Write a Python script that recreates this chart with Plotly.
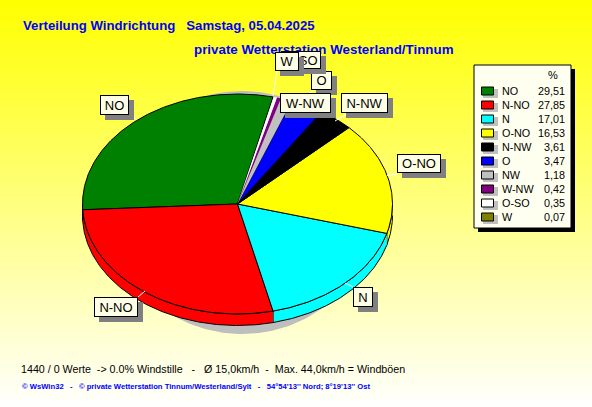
import numpy as np
import plotly.graph_objects as go

# ---- data -------------------------------------------------------------
legend_names = ["NO", "N-NO", "N", "O-NO", "N-NW", "O", "NW", "W-NW", "O-SO", "W"]
legend_values = [29.51, 27.85, 17.01, 16.53, 3.61, 3.47, 1.18, 0.42, 0.35, 0.07]
legend_colors = ["#008000", "#FF0000", "#00FFFF", "#FFFF00", "#000000",
                 "#0000FF", "#C0C0C0", "#800080", "#FFFFFF", "#808000"]
# clockwise order of the slices round the pie, starting at the left
pie_order = ["NO", "W", "O-SO", "W-NW", "NW", "O", "N-NW", "O-NO", "N", "N-NO"]

title_1 = "Verteilung Windrichtung\u00a0\u00a0\u00a0Samstag, 05.04.2025"
title_2 = "private Wetterstation Westerland/Tinnum"
footer_1 = ("1440 / 0 Werte\u00a0\u00a0-> 0.0% Windstille\u00a0\u00a0\u00a0-\u00a0\u00a0\u00a0"
            "Ø 15,0km/h\u00a0\u00a0-\u00a0\u00a0Max. 44,0km/h = Windböen")
footer_2 = ("© WsWin32\u00a0\u00a0\u00a0-\u00a0\u00a0\u00a0© private Wetterstation "
            "Tinnum/Westerland/Sylt\u00a0\u00a0\u00a0-\u00a0\u00a0\u00a0"
            "54°54'13'' Nord; 8°19'13'' Ost")

# ---- geometry / style ---------------------------------------------------
W, H = 592, 407
CX, CY, RX, RY, DEPTH = 237.5, 204, 155, 110, 11.5
START = 183.0
FONT = "Liberation Sans, Arial, sans-serif"
by_name = dict(zip(legend_names, zip(legend_values, legend_colors)))
total = sum(legend_values)

fig = go.Figure()

# background gradient
rows = np.arange(0, H + 2, 2)
fig.add_trace(go.Heatmap(x=[0, W], y=rows, z=[[r, r] for r in rows],
                         colorscale=[[0, "#FFFF00"], [1, "#FFFFFF"]], showscale=False,
                         hoverinfo="skip", zsmooth="best"))

# pie shadow
t = np.radians(np.linspace(0, 360, 241))
fig.add_trace(go.Scatter(x=242 + 130 * np.cos(t), y=212.5 - 121.5 * np.sin(t), mode="lines",
                         fill="toself", fillcolor="#BEBEBE", line=dict(width=0), hoverinfo="skip"))

# slice angles
spans = []
a = START
for name in pie_order:
    v, c = by_name[name]
    b = a - v / total * 360
    spans.append((name, a, b, c))
    a = b

def ex(deg):
    return CX + RX * np.cos(np.radians(deg))

def ey(deg):
    return CY - RY * np.sin(np.radians(deg))

# side wall: only the part of each slice on the front half (180..360 degrees)
for name, a0, b0, c in spans:
    segs = []
    for k in (0, -360):
        s, e = min(a0, 360 + k), max(b0, 180 + k)
        if s > e:
            segs.append((s, e))
    for s, e in segs:
        ang = np.linspace(s, e, max(int((s - e) * 2), 3))
        xs = np.r_[ex(ang), ex(ang[::-1])]
        ys = np.r_[ey(ang), ey(ang[::-1]) + DEPTH]
        fig.add_trace(go.Scatter(x=xs, y=ys, mode="lines", fill="toself", fillcolor=c,
                                 line=dict(color="#000000", width=1), hoverinfo="skip"))

# top faces: wide slices first with an outline, the thin ones on top without one
for name, a0, b0, c in sorted(spans, key=lambda s: s[2] - s[1]):
    ang = np.linspace(a0, b0, max(int((a0 - b0) * 2), 3))
    xs = np.r_[CX, ex(ang), CX]
    ys = np.r_[CY, ey(ang), CY]
    lw = 1 if (a0 - b0) > 5 else 0
    fig.add_trace(go.Scatter(x=xs, y=ys, mode="lines", fill="toself", fillcolor=c,
                             line=dict(color="#000000", width=lw), hoverinfo="skip"))

shapes = []
annotations = []

def text(x, y, s, size=12, color="#000000", bold=False, anchor="left"):
    annotations.append(dict(x=x, y=y, xref="x", yref="y", text=f"<b>{s}</b>" if bold else s,
                            showarrow=False, xanchor=anchor, yanchor="middle", borderpad=0,
                            font=dict(family=FONT, size=size, color=color)))

# titles and footer
text(22, 25, title_1, size=13.2, color="#0000FF", bold=True)
text(193, 49, title_2, size=13.35, color="#0000FF", bold=True)
text(20, 369, footer_1, size=10.7)
text(21, 386, footer_2, size=7.65, color="#0000FF", bold=True)

# legend box
shapes.append(dict(type="rect", x0=478, y0=69, x1=575, y1=232, fillcolor="#000000", line_width=0))
shapes.append(dict(type="rect", x0=474, y0=65, x1=571, y1=228, fillcolor="#FFFFF0",
                   line=dict(color="#000000", width=1)))
text(553, 75, "%", size=11, anchor="center")
for i, (n, v, c) in enumerate(zip(legend_names, legend_values, legend_colors)):
    yc = 91 + i * 14
    shapes.append(dict(type="rect", x0=483, y0=yc - 2, x1=498, y1=yc + 7, fillcolor="#C0C0C0", line_width=0))
    shapes.append(dict(type="rect", x0=481.5, y0=yc - 4, x1=493.5, y1=yc + 4, fillcolor=c,
                       line=dict(color="#000000", width=1)))
    text(501, yc, n, size=10.8)
    text(566, yc, f"{v:.2f}".replace(".", ","), size=10.8, anchor="right")

# leader lines
leaders = [(130, 115, 137, 120), (348, 113, 335, 121), (397, 174, 387, 175.5),
           (353, 287, 345, 283), (138, 297, 145, 291), (277, 71, 273, 96),
           (314, 90, 300, 100)]
for x0, y0, x1, y1 in leaders:
    shapes.append(dict(type="line", x0=x0, y0=y0, x1=x1, y1=y1, line=dict(color="#FFFFFF", width=1)))

# data labels: draw order as in the picture (later ones cover earlier ones)
label_boxes = [("NO", 100, 95, 129, 115), ("N-NO", 94, 297, 138, 317), ("N", 353, 287, 373, 307),
               ("O-NO", 397, 154, 441, 173), ("N-NW", 341, 93, 388, 113), ("O", 311, 71, 332, 90),
               ("O-SO", 281, 51, 321, 69), ("W-NW", 280, 93, 331, 113), ("W", 275, 52, 299, 71)]
for n, x0, y0, x1, y1 in label_boxes:
    w, h = x1 - x0, y1 - y0
    annotations.append(dict(x=x0 + 5, y=y0 + 5, xref="x", yref="y", text=" ", showarrow=False,
                            xanchor="left", yanchor="top", width=w, height=h, bgcolor="#808080",
                            borderpad=0, borderwidth=0))
    annotations.append(dict(x=x0, y=y0, xref="x", yref="y", text=n, showarrow=False,
                            xanchor="left", yanchor="top", width=w - 2, height=h - 2, align="center",
                            valign="middle", bgcolor="#FFFFE8", bordercolor="#000000", borderwidth=1,
                            borderpad=0, font=dict(family=FONT, size=13, color="#000000")))

fig.update_layout(width=W, height=H, margin=dict(l=0, r=0, t=0, b=0), showlegend=False,
                  paper_bgcolor="#FFFFFF", plot_bgcolor="rgba(0,0,0,0)",
                  xaxis=dict(range=[0, W], visible=False, fixedrange=True),
                  yaxis=dict(range=[H, 0], visible=False, fixedrange=True),
                  shapes=shapes, annotations=annotations)
fig.write_html("out.html", config={"displayModeBar": False},
               post_script="document.body.style.margin='0';document.body.style.overflow='hidden';")
